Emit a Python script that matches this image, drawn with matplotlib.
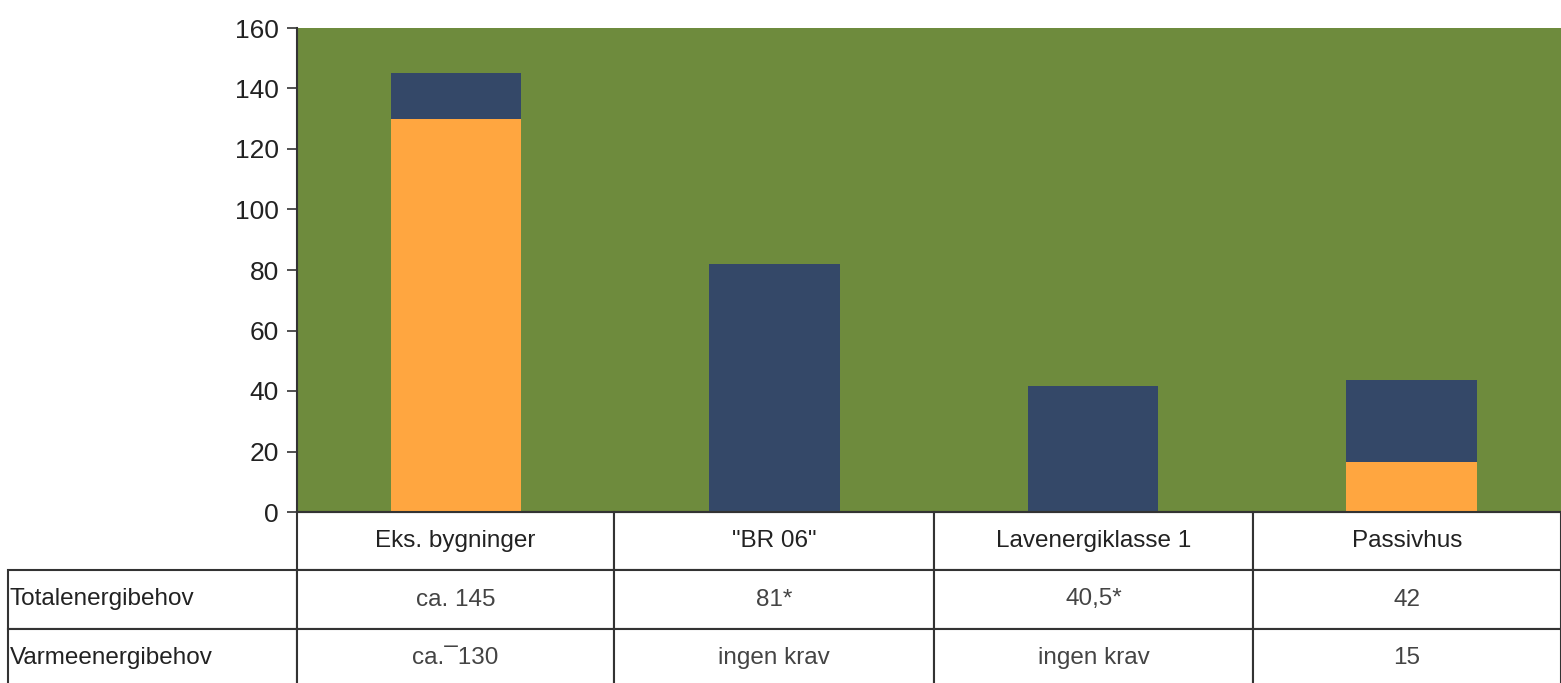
import matplotlib
matplotlib.use("Agg")
from matplotlib import pyplot as plt
import numpy as np

plt.rcParams['font.family'] = ['Liberation Sans', 'DejaVu Sans']

# data
categories = ['Eks. bygninger', '"BR 06"', 'Lavenergiklasse 1', 'Passivhus']
total = [145, 82, 41.5, 43.5]          # height of whole bar
heat = [130, 0, 0, 16.5]               # orange lower part
rest = [t - h for t, h in zip(total, heat)]

row_labels = ['Totalenergibehov', 'Varmeenergibehov']
row_total = ['ca. 145', '81*', '40,5*', '42']
row_heat = ['ca.\u00af130', 'ingen krav', 'ingen krav', '15']

W, H = 1561, 683
fig = plt.figure(figsize=(W / 100, H / 100), dpi=100)
ax = fig.add_axes([297 / W, (H - 512) / H, (W - 297) / W, (512 - 28) / H])
ax.set_facecolor('#6e8b3d')

x = np.arange(len(categories))
ax.bar(x, heat, width=0.41, color='#ffa640', zorder=2)
ax.bar(x, rest, width=0.41, bottom=heat, color='#344868', zorder=2)

ax.set_xlim(-0.5, 3.47)
ax.set_ylim(0, 160)
ax.set_yticks(range(0, 161, 20))
ax.set_xticks([])
ax.tick_params(axis='y', labelsize=19, length=7, width=1.2, direction='out',
               color='#333333', labelcolor='#222222', pad=6)
for s in ['top', 'right']:
    ax.spines[s].set_visible(False)
ax.spines['left'].set_color('#333333')
ax.spines['left'].set_linewidth(1.5)
ax.spines['bottom'].set_color('#333333')
ax.spines['bottom'].set_linewidth(1.5)

# table under the bars, first column holds the row labels
cell_text = [[''] + categories,
             [row_labels[0]] + row_total,
             [row_labels[1]] + row_heat]
axw = W - 297
axh = 512 - 28
left = (8 - 297) / axw
tbl = ax.table(cellText=cell_text,
               colWidths=[289, 316, 320, 318, 308],
               cellLoc='center',
               bbox=[left, -175 / axh, (W - 8) / axw, 175 / axh])
tbl.auto_set_font_size(False)
tbl.set_fontsize(17.5)
for (r, c), cell in tbl.get_celld().items():
    cell.set_edgecolor('#333333')
    cell.set_linewidth(1.5)
    cell.get_text().set_color('#222222')
    if c == 0:
        cell.get_text().set_ha('left')
        cell.PAD = 0.005
    if r > 0 and c > 0:
        cell.get_text().set_color('#444444')
tbl[0, 0].set_edgecolor('white')
tbl[0, 0].set_linewidth(0)

fig.savefig('out.png', dpi=100)
